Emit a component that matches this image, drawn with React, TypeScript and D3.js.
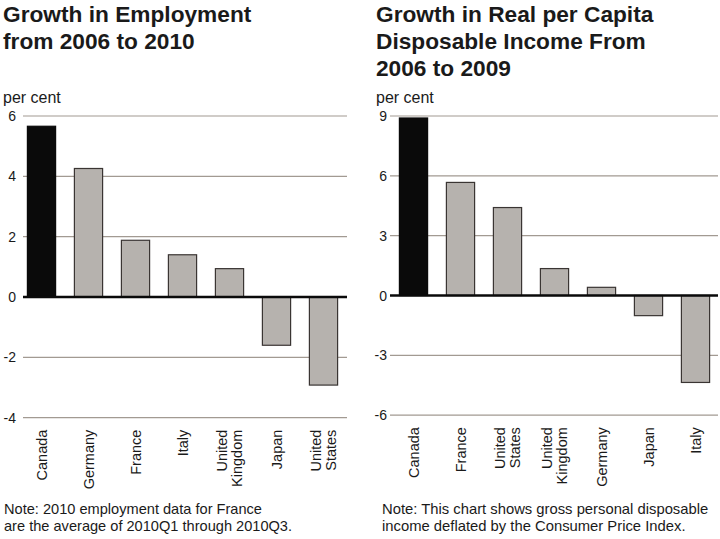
import React from "react";
import * as d3 from "d3";

const empCountries = ["Canada", "Germany", "France", "Italy", "United Kingdom", "Japan", "United States"];
const empValues = [5.66, 4.26, 1.88, 1.4, 0.94, -1.6, -2.92];
const empTicks = [6, 4, 2, 0, -2, -4];

const incCountries = ["Canada", "France", "United States", "United Kingdom", "Germany", "Japan", "Italy"];
const incValues = [8.9, 5.67, 4.41, 1.35, 0.41, -1.01, -4.36];
const incTicks = [9, 6, 3, 0, -3, -6];

const leftTitle = ["Growth in Employment", "from 2006 to 2010"];
const rightTitle = ["Growth in Real per Capita", "Disposable Income From", "2006 to 2009"];
const leftNote = ["Note: 2010 employment data for France", "are the average of 2010Q1 through 2010Q3."];
const rightNote = ["Note: This chart shows gross personal disposable", "income deflated by the Consumer Price Index."];

const FONT = "'Liberation Sans', Arial, Helvetica, sans-serif";
const GRID = "#a29a92";
const BAR = "#b6b2ae";
const STROKE = "#3a3533";

type PanelProps = {
  countries: string[];
  values: number[];
  ticks: number[];
  title: string[];
  note: string[];
  titleX: number;
  gridX0: number;
  gridX1: number;
  bandX0: number;
  bandX1: number;
  tickX: number;
  zeroY: number;
  topY: number;
  noteX: number;
  noteSize: number;
};

function Panel(p: PanelProps) {
  const yMax = p.ticks[0];
  const yMin = p.ticks[p.ticks.length - 1];
  const y = d3.scaleLinear().domain([yMin, yMax]).range([p.zeroY + (p.zeroY - p.topY) * (-yMin / yMax), p.topY]);
  const x = d3.scaleBand<string>().domain(p.countries).range([p.bandX0, p.bandX1]).paddingInner(0.4).paddingOuter(0.2);
  const bottomY = y(yMin);
  return (
    <g>
      {p.title.map((t, i) => (
        <text key={i} x={p.titleX} y={22 + i * 27} fontFamily={FONT} fontWeight="bold" fontSize={22.7} fill="#1a1a1a">
          {t}
        </text>
      ))}
      <text x={p.titleX} y={103} fontFamily={FONT} fontSize={16} fill="#1a1a1a">
        per cent
      </text>
      {p.ticks.filter((t) => t !== 0).map((t) => (
        <line key={t} x1={p.gridX0} x2={p.gridX1} y1={y(t)} y2={y(t)} stroke={GRID} strokeWidth={1.2} />
      ))}
      {p.ticks.map((t) => (
        <text key={"l" + t} x={p.tickX} y={y(t) + 5} textAnchor="end" fontFamily={FONT} fontSize={14} fill="#1a1a1a">
          {t}
        </text>
      ))}
      {p.countries.map((c, i) => {
        const v = p.values[i];
        const y0 = y(Math.max(0, v));
        const h = Math.abs(y(v) - y(0));
        return (
          <rect
            key={c}
            x={x(c)}
            y={y0}
            width={x.bandwidth()}
            height={h}
            fill={i === 0 ? "#0a0a0a" : BAR}
            stroke={i === 0 ? "#0a0a0a" : STROKE}
            strokeWidth={1.2}
          />
        );
      })}
      <line x1={p.gridX0} x2={p.gridX1} y1={y(0)} y2={y(0)} stroke="#0a0a0a" strokeWidth={2.5} />
      {p.countries.map((c) => {
        const words = c.split(" ");
        const cx = (x(c) as number) + x.bandwidth() / 2;
        const n = words.length;
        return words.map((w, j) => {
          const lx = cx + (j - (n - 1) / 2) * 14.5 + 5;
          return (
            <text
              key={c + j}
              transform={`translate(${lx},${bottomY + 12}) rotate(-90)`}
              textAnchor="end"
              fontFamily={FONT}
              fontSize={14.5}
              fill="#1a1a1a"
            >
              {w}
            </text>
          );
        });
      })}
      {p.note.map((t, i) => (
        <text key={"n" + i} x={p.noteX} y={514 + i * 17} fontFamily={FONT} fontSize={p.noteSize} fill="#1a1a1a">
          {t}
        </text>
      ))}
    </g>
  );
}

export default function App() {
  return (
    <svg
      width={720}
      height={539}
      style={{ position: "absolute", left: 0, top: 0, background: "#fff", display: "block" }}
    >
      <rect width={720} height={539} fill="#fff" />
      <Panel
        countries={empCountries}
        values={empValues}
        ticks={empTicks}
        title={leftTitle}
        note={leftNote}
        titleX={3}
        gridX0={23}
        gridX1={347}
        bandX0={18}
        bandX1={347}
        tickX={16}
        zeroY={297}
        topY={116}
        noteX={4}
        noteSize={14.6}
      />
      <Panel
        countries={incCountries}
        values={incValues}
        ticks={incTicks}
        title={rightTitle}
        note={rightNote}
        titleX={376}
        gridX0={390}
        gridX1={718}
        bandX0={390}
        bandX1={719}
        tickX={387}
        zeroY={295.5}
        topY={116}
        noteX={382}
        noteSize={14.8}
      />
    </svg>
  );
}
